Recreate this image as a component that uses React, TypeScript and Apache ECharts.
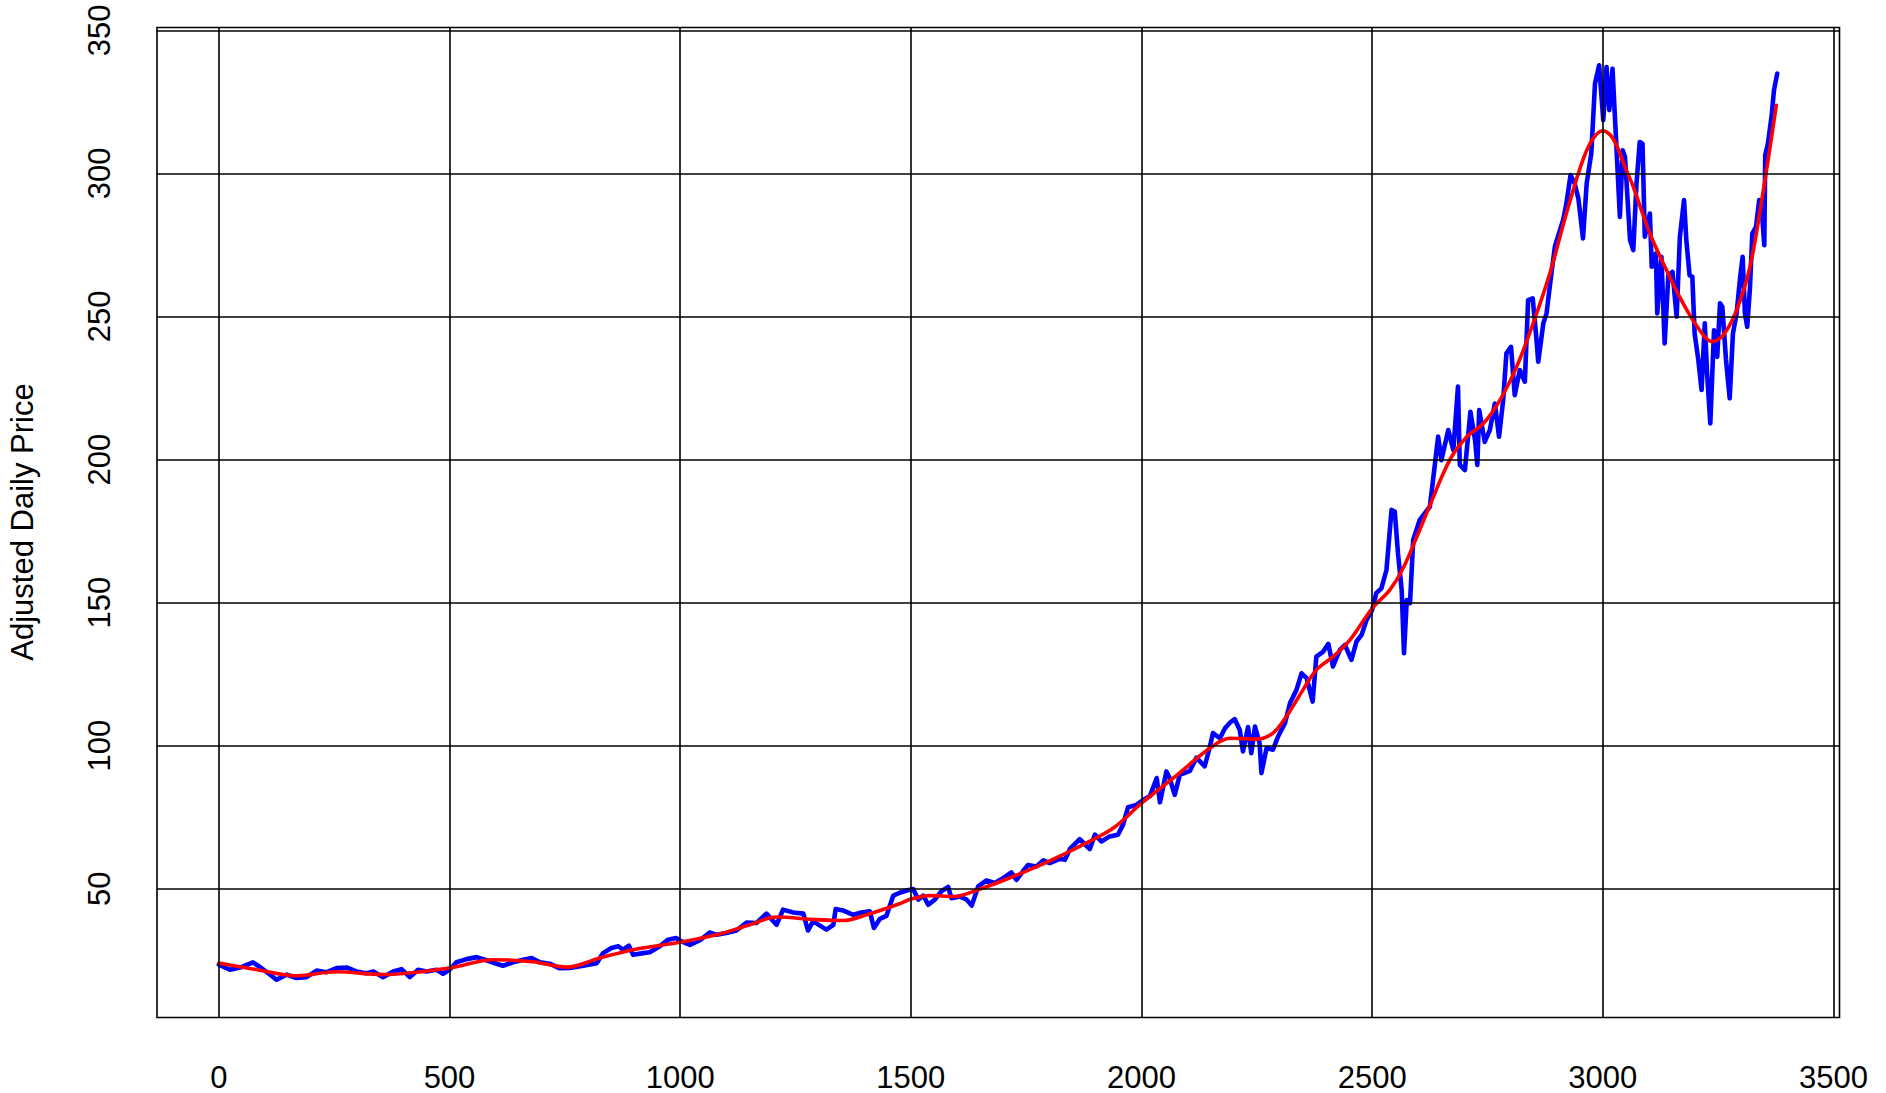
import React, { useEffect, useRef } from "react";
import * as echarts from "echarts";

// Day index / adjusted price (blue, daily series)
const priceDays = [
  0, 24, 49, 74, 92, 107, 125, 147, 168, 190, 212, 233, 255, 277, 298, 320, 335, 356, 378, 396, 414, 432, 450, 472, 486, 500,
  515, 537, 559, 580, 602, 616, 638, 660, 678, 696, 717, 739, 761, 790, 819, 833, 851, 866, 876, 889, 898, 920, 934, 956, 974,
  991, 1003, 1021, 1043, 1064, 1079, 1100, 1122, 1144, 1165, 1187, 1209, 1223, 1245, 1267, 1277, 1288, 1303, 1317, 1332, 1337,
  1353, 1375, 1393, 1411, 1420, 1433, 1447, 1462, 1476, 1491, 1505, 1516, 1527, 1538, 1552, 1566, 1581, 1588, 1606, 1621, 1632,
  1646, 1664, 1682, 1700, 1718, 1729, 1743, 1754, 1772, 1787, 1801, 1823, 1834, 1845, 1866, 1888, 1899, 1913, 1931, 1949, 1960,
  1971, 1989, 2004, 2018, 2033, 2040, 2054, 2061, 2072, 2083, 2105, 2119, 2137, 2148, 2155, 2170, 2181, 2192, 2202, 2213, 2220,
  2231, 2238, 2246, 2256, 2260, 2271, 2285, 2296, 2311, 2322, 2336, 2347, 2358, 2371, 2379, 2394, 2405, 2415, 2430, 2441, 2455,
  2466, 2477, 2488, 2500, 2509, 2520, 2531, 2542, 2549, 2556, 2564, 2569, 2575, 2582, 2589, 2603, 2625, 2632, 2643, 2650, 2665,
  2676, 2686, 2690, 2701, 2713, 2723, 2728, 2732, 2744, 2755, 2766, 2775, 2784, 2791, 2801, 2809, 2820, 2831, 2838, 2848, 2856,
  2860, 2871, 2878, 2885, 2896, 2907, 2914, 2921, 2930, 2939, 2947, 2957, 2965, 2975, 2983, 2992, 3001, 3008, 3014, 3021, 3028,
  3037, 3043, 3048, 3059, 3066, 3073, 3080, 3086, 3091, 3102, 3106, 3115, 3118, 3127, 3134, 3142, 3151, 3160, 3167, 3176, 3181,
  3188, 3194, 3199, 3207, 3214, 3221, 3226, 3233, 3241, 3248, 3254, 3259, 3267, 3275, 3282, 3290, 3297, 3303, 3308, 3313, 3319,
  3324, 3332, 3339, 3345, 3350, 3352, 3358, 3366, 3371, 3378,
];
const priceValues = [
  23.5, 21.7, 22.6, 24.3, 22.3, 20.5, 18.2, 20.0, 18.8, 19.1, 21.4, 20.8, 22.3, 22.5, 21.1, 20.5, 21.1, 19.1, 21.1, 21.9, 19.1,
  21.7, 21.1, 21.7, 20.3, 21.7, 24.3, 25.4, 26.1, 25.0, 23.8, 23.1, 24.3, 25.2, 25.8, 24.3, 23.8, 22.2, 22.3, 23.1, 24.0, 27.5,
  29.3, 29.9, 28.7, 30.1, 26.9, 27.5, 27.8, 29.9, 32.2, 32.8, 31.6, 30.4, 32.0, 34.7, 33.9, 34.5, 35.4, 38.2, 38.0, 41.3, 37.4,
  42.7, 41.7, 41.3, 35.4, 38.6, 37.1, 35.7, 37.4, 42.9, 42.4, 40.9, 41.7, 42.1, 36.3, 39.5, 40.5, 47.6, 48.6, 49.4, 49.9, 46.2,
  47.6, 44.4, 46.2, 49.1, 50.6, 46.7, 47.3, 46.2, 44.1, 50.8, 52.9, 52.0, 53.7, 55.7, 53.1, 56.1, 58.3, 57.8, 59.9, 59.0, 60.4,
  60.1, 63.9, 67.3, 63.9, 68.9, 66.5, 68.3, 68.9, 72.4, 78.5, 79.3, 81.1, 82.3, 88.7, 80.2, 91.0, 88.7, 82.8, 89.8, 91.2, 95.8,
  92.8, 99.5, 104.4, 102.6, 106.1, 108.1, 109.3, 105.5, 98.0, 106.5, 97.4, 106.7, 100.9, 90.4, 99.1, 98.6, 103.2, 107.9, 114.9,
  119.5, 125.3, 123.6, 115.4, 131.1, 132.9, 135.6, 127.7, 133.5, 135.2, 130.0, 136.4, 138.7, 144.0, 147.5, 153.3, 155.0, 161.4,
  182.4, 181.8, 167.2, 154.4, 132.3, 150.9, 149.8, 171.9, 178.9, 183.5, 192.9, 208.0, 199.8, 210.3, 203.3, 225.5, 198.1, 196.3,
  216.7, 206.8, 198.1, 217.3, 206.2, 210.3, 219.6, 208.0, 220.8, 237.1, 239.4, 222.5, 231.3, 227.2, 255.7, 256.3, 242.3, 234.2,
  247.6, 251.1, 260.5, 274.4, 280.2, 283.7, 289.5, 299.4, 296.5, 291.2, 277.3, 296.5, 307.0, 331.4, 337.8, 318.6, 337.2, 322.1,
  336.6, 313.9, 284.8, 308.1, 305.8, 276.7, 273.2, 296.5, 311.0, 310.4, 277.9, 286.0, 267.4, 272.0, 251.1, 270.9, 240.6, 264.4,
  265.6, 249.9, 277.9, 290.7, 276.7, 264.4, 263.9, 244.0, 234.8, 224.3, 247.6, 230.1, 212.6, 245.2, 235.9, 254.6, 253.4, 234.8,
  221.4, 244.0, 251.1, 262.7, 270.9, 251.1, 246.4, 260.3, 279.0, 281.3, 290.7, 286.0, 274.9, 306.4, 310.5, 320.3, 329.1, 334.9,
];

// Smoothed trend (red)
const trendDays = [
  0, 80, 168, 255, 356, 500, 595, 680, 754, 826, 898, 999, 1079, 1151, 1209, 1295, 1353, 1404, 1476, 1500, 1541, 1592, 1650,
  1722, 1794, 1866, 1939, 2000, 2069, 2148, 2192, 2249, 2285, 2314, 2350, 2379, 2415, 2452, 2500, 2538, 2567, 2603, 2621, 2668,
  2705, 2741, 2777, 2813, 2849, 2885, 2921, 2957, 2979, 3000, 3022, 3051, 3066, 3102, 3138, 3174, 3210, 3236, 3261, 3290, 3319,
  3348, 3376,
];
const trendValues = [
  24.0, 21.8, 19.6, 21.0, 20.0, 22.3, 25.2, 24.5, 22.6, 25.8, 28.7, 31.3, 33.9, 37.4, 40.1, 39.2, 38.9, 40.9, 44.8, 46.4, 47.6,
  47.3, 49.9, 54.3, 59.2, 64.8, 71.2, 79.9, 88.7, 99.1, 102.6, 102.3, 104.4, 110.2, 119.5, 126.5, 131.1, 137.0, 148.0, 154.4,
  162.0, 175.4, 182.4, 199.8, 208.0, 212.6, 220.8, 232.4, 247.6, 265.0, 286.0, 304.8, 312.2, 314.9, 312.2, 301.1, 295.3, 279.0,
  266.2, 254.6, 245.2, 241.2, 243.5, 252.2, 267.4, 294.2, 323.8,
];

const xTicks = [0, 500, 1000, 1500, 2000, 2500, 3000, 3500];
const yTicks = [50, 100, 150, 200, 250, 300, 350];
const yTitle = "Adjusted Daily Price";

const FONT = "'Liberation Sans', Arial, Helvetica, sans-serif";

export default function App() {
  const ref = useRef<HTMLDivElement>(null);
  useEffect(() => {
    if (!ref.current) return;
    const chart = echarts.init(ref.current, undefined, { renderer: "svg" });
    const price = priceDays.map((d, i) => [d, priceValues[i]]);
    const trend = trendDays.map((d, i) => [d, trendValues[i]]);
    const gridLineStyle = { color: "#000", width: 1.6, type: "solid" as const };
    chart.setOption({
      animation: false,
      backgroundColor: "#fff",
      grid: {
        left: 157,
        right: 46.5,
        top: 27.5,
        bottom: 75.5,
        show: true,
        borderColor: "#000",
        borderWidth: 1.6,
        backgroundColor: "transparent",
        containLabel: false,
        outerBoundsMode: "none",
      },
      xAxis: {
        type: "value",
        min: -134,
        max: 3513,
        axisLine: { show: false },
        axisTick: { show: false },
        splitLine: { show: false },
        axisLabel: {
          customValues: xTicks,
          formatter: (v: number) => String(v),
          color: "#000",
          fontFamily: FONT,
          fontSize: 31,
          margin: 44,
        },
      },
      yAxis: {
        type: "value",
        min: 5,
        max: 351,
        axisLine: { show: false },
        axisTick: { show: false },
        splitLine: { show: false },
        axisLabel: {
          customValues: yTicks,
          formatter: (v: number) => String(v),
          rotate: 90,
          color: "#000",
          fontFamily: FONT,
          fontSize: 31,
          margin: 42,
        },
      },
      graphic: [
        {
          type: "text",
          x: 22.5,
          y: 522,
          rotation: Math.PI / 2,
          style: {
            text: yTitle,
            fill: "#000",
            font: `31px ${FONT}`,
            textAlign: "center",
            textVerticalAlign: "middle",
          },
        },
      ],
      series: [
        {
          type: "line",
          data: [],
          z: 1,
          silent: true,
          markLine: {
            silent: true,
            symbol: ["none", "none"],
            label: { show: false },
            lineStyle: gridLineStyle,
            emphasis: { disabled: true },
            data: [
              ...xTicks.map((x) => ({ xAxis: x, lineStyle: gridLineStyle })),
              ...yTicks.map((y) => ({ yAxis: y, lineStyle: gridLineStyle })),
            ],
          },
        },
        {
          type: "line",
          data: price,
          z: 2,
          showSymbol: false,
          symbol: "none",
          silent: true,
          lineStyle: { color: "#0000ff", width: 4.6, join: "round", cap: "round" },
        },
        {
          type: "line",
          data: trend,
          z: 3,
          showSymbol: false,
          symbol: "none",
          smooth: 0.35,
          silent: true,
          lineStyle: { color: "#ff0000", width: 3.6, join: "round", cap: "round" },
        },
      ],
    });
    return () => chart.dispose();
  }, []);
  return (
    <div
      ref={ref}
      style={{ position: "absolute", left: 0, top: 0, width: 1886, height: 1093 }}
    />
  );
}
